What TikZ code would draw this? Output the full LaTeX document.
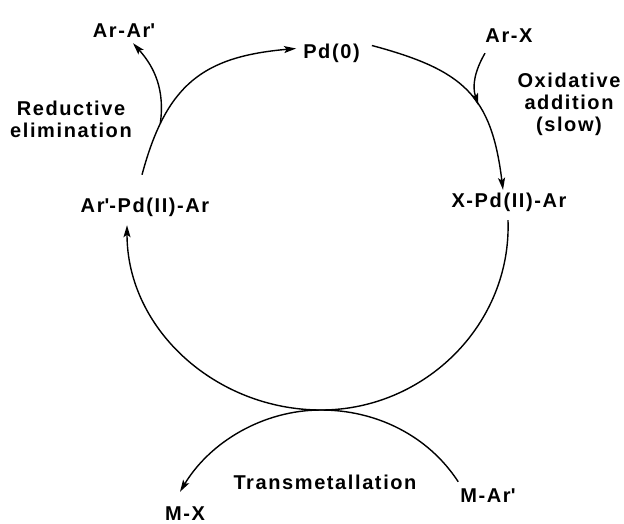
\documentclass[tikz,border=0pt]{standalone}
\usepackage{fontspec}
\setmainfont{Liberation Sans}[LetterSpace=8]
\usetikzlibrary{arrows.meta}

\begin{document}
\begin{tikzpicture}[
  x=1pt, y=1pt,
  every node/.style = {font=\bfseries\fontsize{20}{22}\selectfont},
  species/.style = {
    inner sep=2pt,
    text height=15pt,
    text depth=4pt
  },
  process/.style = {
    align=center,
    inner sep=2pt
  },
  cycle arrow/.style = {
    -{Stealth[length=12pt,width=7pt,inset=2.5pt]},
    line width=1.4pt
  }
]
\useasboundingbox (0,0) rectangle (624,-523);

% species on the cycle
\node[species] (pd0)   at (331.5,-52.5) {Pd(0)};
\node[species] (xpd)   at (509,-201.5)  {X-Pd(II)-Ar};
\node[species] (arpd)  at (145,-206.5)  {Ar\textquotesingle-Pd(II)-Ar};
\node[species] (arx)   at (509,-36.5)   {Ar-X};
\node[species] (ararp) at (124,-31.5)   {Ar-Ar\textquotesingle};
\node[species] (mar)   at (488,-496.5)  {M-Ar\textquotesingle};
\node[species] (mx)    at (185,-514.5)  {M-X};

% step labels
\node[process] (redel) at (71,-119)   {Reductive\\elimination};
\node[process] (oxadd) at (569,-104)  {Oxidative\\addition\\(slow)};
\node[process] (trans) at (325,-482.5) {Transmetallation};

\coordinate (kiss) at (321,-410);

% catalytic cycle
\draw[cycle arrow] ([xshift=-3pt,yshift=20pt]arpd.north)
  to[out=75,in=185,looseness=1.2] coordinate[pos=0.22] (re)
  ([xshift=-5pt,yshift=4pt]pd0.west);
\draw[cycle arrow] ([xshift=10pt,yshift=7pt]pd0.east)
  to[out=-15,in=97,looseness=1.25] coordinate[pos=0.6] (oa)
  ([xshift=-6pt]xpd.north);
\draw[cycle arrow] ([xshift=-1pt,yshift=-7pt]xpd.south)
  to[out=-88,in=0] (kiss)
  to[out=180,in=-90] ([xshift=-18pt,yshift=-7pt]arpd.south);

% side branches
\draw[cycle arrow] (re) to[out=82,in=-48] ([xshift=9pt]ararp.south);
\draw[cycle arrow] ([xshift=-24pt,yshift=-5pt]arx.south) to[out=-120,in=108] (oa);
\draw[cycle arrow] ([yshift=3pt]mar.north west)
  to[out=123,in=0,looseness=0.91] (kiss)
  to[out=180,in=59,looseness=0.91] ([xshift=-5pt,yshift=11pt]mx.north);

\end{tikzpicture}
\end{document}
